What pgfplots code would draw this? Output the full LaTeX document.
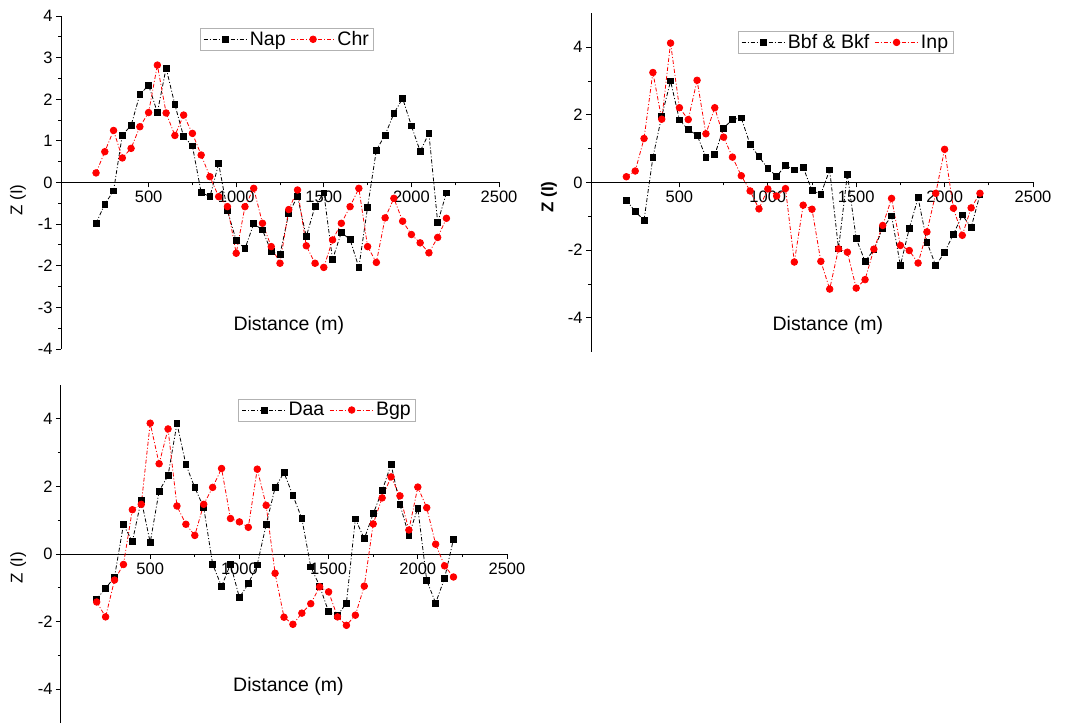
\documentclass[border=0pt]{standalone}
\usepackage{pgfplots}
\pgfplotsset{compat=1.18}
\usepackage{pgfplotstable}
\usepackage{fontspec}
\setmainfont{Liberation Sans}

\pgfplotstableread{
x a b
200 -0.98 0.23
250 -0.52 0.74
300 -0.20 1.25
350 1.14 0.59
400 1.37 0.82
450 2.11 1.34
500 2.34 1.68
550 1.68 2.82
600 2.75 1.67
650 1.87 1.13
700 1.10 1.62
750 0.88 1.18
800 -0.24 0.66
850 -0.34 0.14
900 0.45 -0.34
950 -0.68 -0.58
1000 -1.39 -1.70
1050 -1.59 -0.58
1100 -0.99 -0.14
1150 -1.14 -0.98
1200 -1.66 -1.54
1250 -1.73 -1.94
1300 -0.74 -0.65
1350 -0.34 -0.18
1400 -1.30 -1.52
1450 -0.57 -1.94
1500 -0.25 -2.04
1550 -1.85 -1.38
1600 -1.20 -0.98
1650 -1.37 -0.58
1700 -2.04 -0.14
1750 -0.59 -1.54
1800 0.78 -1.92
1850 1.14 -0.85
1900 1.66 -0.38
1950 2.02 -0.93
2000 1.36 -1.25
2050 0.75 -1.45
2100 1.18 -1.69
2150 -0.96 -1.32
2200 -0.25 -0.86
}\tabA

\pgfplotstableread{
x a b
200 -0.52 0.17
250 -0.86 0.34
300 -1.11 1.30
350 0.74 3.25
400 1.96 1.87
450 3.00 4.12
500 1.85 2.21
550 1.56 1.86
600 1.40 3.02
650 0.75 1.44
700 0.82 2.21
750 1.61 1.34
800 1.86 0.75
850 1.91 0.20
900 1.12 -0.25
950 0.76 -0.78
1000 0.42 -0.19
1050 0.18 -0.40
1100 0.51 -0.18
1150 0.37 -2.35
1200 0.45 -0.67
1250 -0.24 -0.79
1300 -0.34 -2.33
1350 0.37 -3.15
1400 -1.96 -1.96
1450 0.25 -2.06
1500 -1.66 -3.12
1550 -2.33 -2.87
1600 -1.99 -1.97
1650 -1.35 -1.27
1700 -0.99 -0.47
1750 -2.45 -1.86
1800 -1.36 -2.01
1850 -0.45 -2.38
1900 -1.76 -1.46
1950 -2.46 -0.32
2000 -2.06 0.98
2050 -1.53 -0.76
2100 -0.96 -1.56
2150 -1.33 -0.75
2200 -0.36 -0.32
}\tabB

\pgfplotstableread{
x a b
200 -1.33 -1.42
250 -1.02 -1.86
300 -0.68 -0.77
350 0.87 -0.31
400 0.37 1.31
450 1.60 1.47
500 0.34 3.87
550 1.86 2.67
600 2.32 3.70
650 3.86 1.42
700 2.65 0.88
750 1.96 0.55
800 1.38 1.47
850 -0.30 1.97
900 -0.96 2.53
950 -0.30 1.05
1000 -1.29 0.95
1050 -0.88 0.79
1100 -0.32 2.51
1150 0.87 1.44
1200 1.96 -0.57
1250 2.41 -1.87
1300 1.73 -2.08
1350 1.05 -1.75
1400 -0.38 -1.47
1450 -0.95 -0.97
1500 -1.71 -1.12
1550 -1.82 -1.86
1600 -1.45 -2.11
1650 1.04 -1.81
1700 0.45 -0.95
1750 1.19 0.89
1800 1.87 1.66
1850 2.65 2.28
1900 1.46 1.72
1950 0.55 0.71
2000 1.36 1.98
2050 -0.78 1.37
2100 -1.45 0.29
2150 -0.72 -0.35
2200 0.44 -0.68
}\tabC

\pgfplotsset{
  panel/.style={
    scale only axis, xmin=0, xmax=2500,
    axis x line=middle, axis y line=left,
    axis line style={-, line width=1pt},
    xtick={500,1000,1500,2000,2500}, minor x tick num=1,
    tick align=outside,
    major tick length=5pt, minor tick length=3pt,
    every tick/.style={line width=0.9pt, black},
    ticklabel style={font=\fontsize{16.5}{16.5}\selectfont},
    /pgf/number format/assume math mode=true,
    /pgf/number format/1000 sep={},
    clip=false,
    legend columns=2,
    legend cell align=left,
    legend style={draw=gray!60, line width=0.9pt, fill=white,
      font=\fontsize{19.5}{19.5}\selectfont, inner xsep=3pt, inner ysep=1.5pt,
      /tikz/every even column/.append style={column sep=3pt}},
    legend image code/.code={
      \draw[##1] (0pt,0pt) -- (44pt,0pt);
      \draw[##1, only marks] plot coordinates {(22pt,0pt)};
    },
    xlabel style={font=\fontsize{19.5}{19.5}\selectfont, anchor=center},
    ylabel style={font=\fontsize{17}{17}\selectfont, anchor=center, rotate=0},
  },
  blk/.style={black, line width=0.8pt, dash pattern=on 4pt off 2pt on 1pt off 2pt,
    mark=square*, mark size=2.9pt, mark options={solid}},
  rdl/.style={red, line width=0.8pt, dash pattern=on 4pt off 2pt on 1pt off 2pt,
    mark=*, mark size=3.3pt, mark options={solid}},
}

\begin{document}
\begin{tikzpicture}
\path[use as bounding box] (0pt,0pt) rectangle (1076pt,723pt);

% Panel 1
\begin{axis}[panel, at={(61pt,374pt)}, anchor=south west,
  width=438pt, height=333pt, ymin=-4, ymax=4,
  ytick={-4,-3,...,4}, minor y tick num=1,
  xlabel={Distance (m)}, xlabel style={at={(axis description cs:0.52,0.072)}},
  ylabel={Z (I)}, ylabel style={at={(axis description cs:-0.098,0.447)}},
  legend style={at={(axis description cs:0.516,0.93)}, anchor=center}]
\addplot[blk] table[x=x,y=a] {\tabA};
\addlegendentry{Nap}
\addplot[rdl] table[x=x,y=b] {\tabA};
\addlegendentry{Chr}
\end{axis}

% Panel 2
\begin{axis}[panel, at={(591pt,371.3pt)}, anchor=south west,
  width=442pt, height=338.4pt, ymin=-5, ymax=5,
  ytick={-4,-2,0,2,4}, minor y tick num=1,
  xlabel={Distance (m)}, xlabel style={at={(axis description cs:0.536,0.079)}},
  ylabel={\textbf{Z (I)}}, ylabel style={at={(axis description cs:-0.095,0.457)}},
  legend style={at={(axis description cs:0.576,0.914)}, anchor=center}]
\addplot[blk] table[x=x,y=a] {\tabB};
\addlegendentry{Bbf \& Bkf}
\addplot[rdl] table[x=x,y=b] {\tabB};
\addlegendentry{Inp}
\end{axis}

% Panel 3
\begin{axis}[panel, at={(61pt,0pt)}, anchor=south west,
  width=446pt, height=338pt, ymin=-5, ymax=5,
  ytick={-4,-2,0,2,4}, minor y tick num=1,
  xlabel={Distance (m)}, xlabel style={at={(axis description cs:0.51,0.107)}},
  ylabel={Z (I)}, ylabel style={at={(axis description cs:-0.096,0.46)}},
  legend style={at={(axis description cs:0.597,0.926)}, anchor=center}]
\addplot[blk] table[x=x,y=a] {\tabC};
\addlegendentry{Daa}
\addplot[rdl] table[x=x,y=b] {\tabC};
\addlegendentry{Bgp}
\end{axis}
\end{tikzpicture}
\end{document}
